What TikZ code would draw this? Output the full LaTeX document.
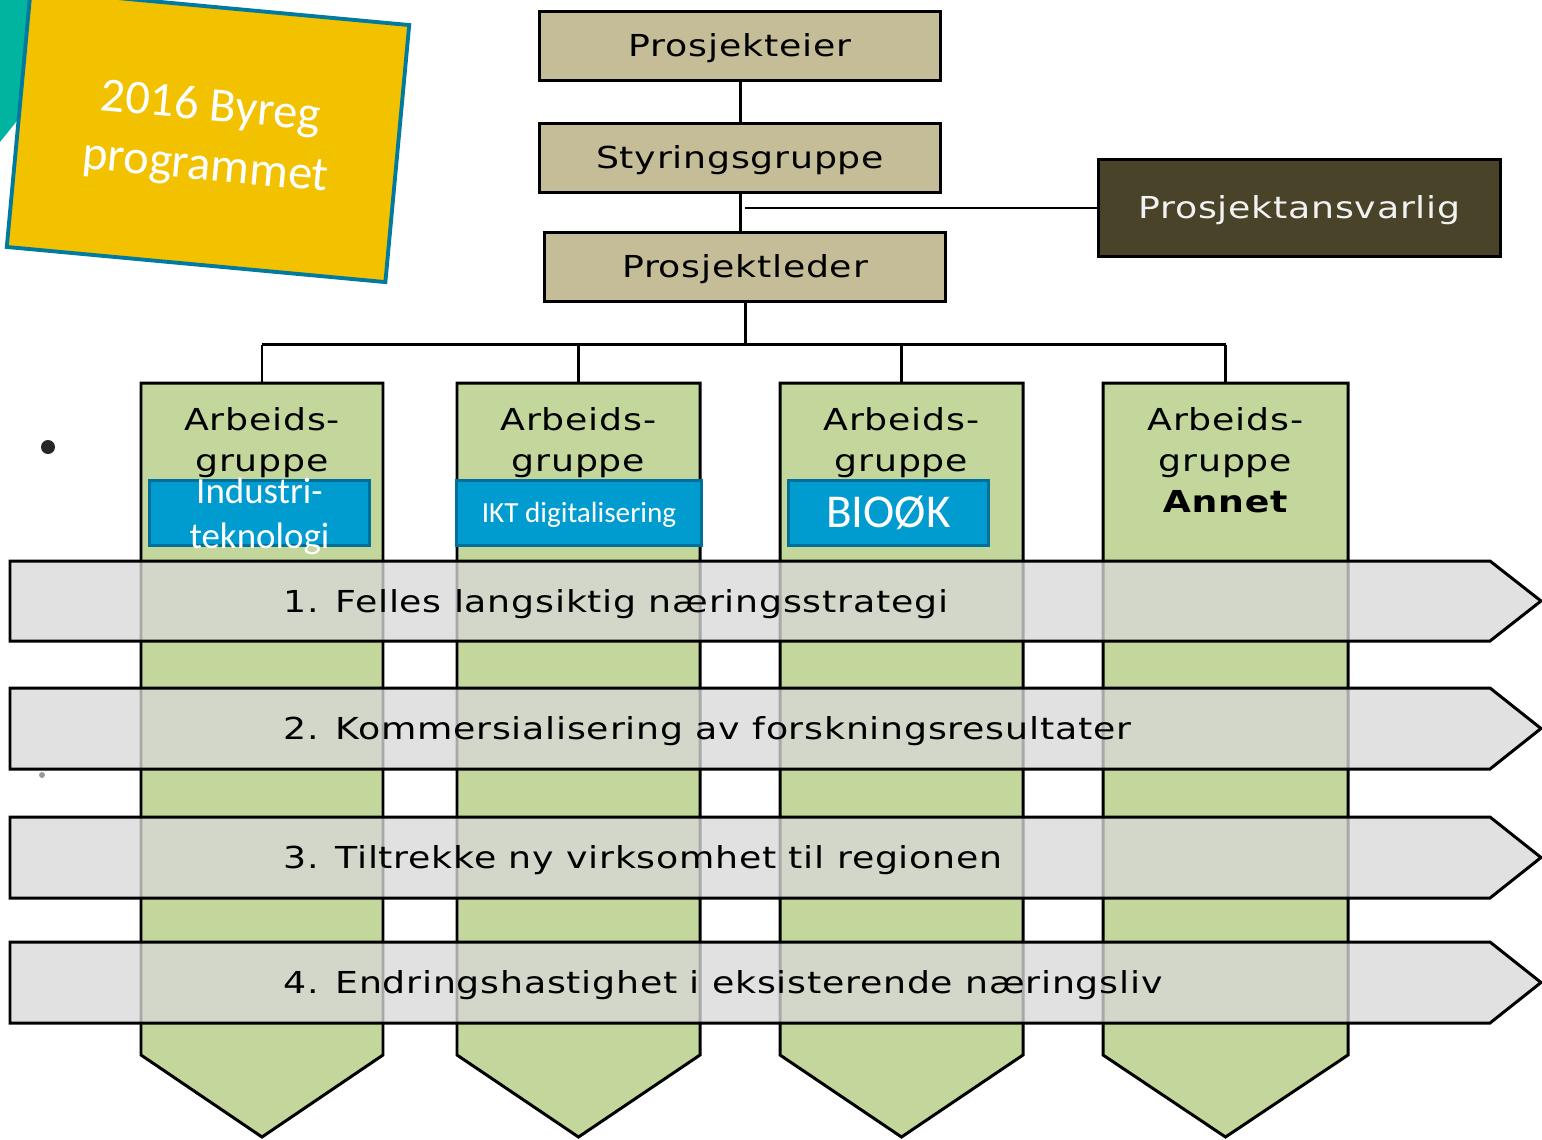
\documentclass[tikz,border=0pt]{standalone}
\usepackage{fontspec}
\setmainfont{DejaVu Sans}[LetterSpace=2.5, FakeStretch=1.2]
\newfontfamily\tagfont{Carlito}
\usepackage{xcolor}
\usetikzlibrary{positioning}
\definecolor{tanfill}{HTML}{C4BD97}
\definecolor{darkfill}{HTML}{494429}
\definecolor{greenfill}{HTML}{C3D69B}
\definecolor{bandfill}{HTML}{D8D8D8}
\definecolor{tagfill}{HTML}{009BCF}
\definecolor{tagline}{HTML}{006F9A}
\definecolor{yellowfill}{HTML}{F2C100}
\definecolor{yellowline}{HTML}{007A9E}
\definecolor{tealfill}{HTML}{00B4A0}
\tikzstyle{org} = [rectangle, minimum width=4.01cm, minimum height=0.69cm, inner sep=0pt, text centered,
     text height=6.5pt, text depth=0.3pt, draw=black, line width=0.85pt, fill=tanfill]
\tikzstyle{dark} = [rectangle, minimum width=4.01cm, minimum height=0.96cm, inner sep=0pt, text centered,
     text height=6.5pt, text depth=0.3pt, draw=black, line width=0.85pt, fill=darkfill, text=white!95!black]
\tikzstyle{column} = [draw=black, line width=0.85pt, fill=greenfill]
\tikzstyle{band} = [draw=black, line width=0.85pt, fill=bandfill, fill opacity=0.78]
\tikzstyle{grouptext} = [anchor=north, align=center, inner sep=0pt]
\tikzstyle{tag} = [rectangle, minimum height=0.64cm, inner sep=0pt, draw=tagline, line width=0.85pt, fill=tagfill]
\tikzstyle{tagtext} = [align=center, inner sep=0pt, text=white]
\tikzstyle{line} = [draw, line width=0.85pt]

\begin{document}
\begin{tikzpicture}[x=0.01cm, y=-0.01cm, font=\fontsize{8.6}{11.7}\selectfont]
\useasboundingbox (0,0) rectangle (1542,1139);

% programme label
\fill[tealfill] (0,0) -- (40,0) -- (40,92) -- (0,142) -- cycle;
\node (prog) [rotate=-5.3, minimum width=3.8cm, minimum height=2.58cm, inner sep=0pt, draw=yellowline,
     line width=1.1pt, fill=yellowfill] at (208,136) {};
\node (progtext) [rotate=-5.3, align=center, text=white, inner sep=0pt,
     font=\tagfont\fontsize{13.8}{17}\selectfont] at ([yshift=-0.02cm]prog) {2016 Byreg\\programmet};

% columns
\draw[column] (141,383) -- (383,383) -- (383,1055) -- (262,1137) -- (141,1055) -- cycle;
\draw[column] (457,383) -- (700,383) -- (700,1055) -- (578.5,1137) -- (457,1055) -- cycle;
\draw[column] (780,383) -- (1023,383) -- (1023,1055) -- (901.5,1137) -- (780,1055) -- cycle;
\draw[column] (1103,383) -- (1348,383) -- (1348,1055) -- (1225.5,1137) -- (1103,1055) -- cycle;
\coordinate (c1) at (262,383);
\coordinate (c2) at (578.5,383);
\coordinate (c3) at (901.5,383);
\coordinate (c4) at (1225.5,383);

% org chart
\node (peier) [org] at (740,46) {Prosjekteier};
\node (styr) [org, below=0.395cm of peier] {Styringsgruppe};
\node (pleder) [org, below=0.37cm of styr, xshift=0.05cm] {Prosjektleder};
\node (pansv) [dark] at (1299.5,208) {Prosjektansvarlig};
\coordinate (bus) at ([yshift=-0.42cm]pleder.south);

\path[line] (peier) -- (styr);
\path[line] (styr.south) -- (styr.south |- pleder.north);
\draw[line width=0.55pt] (pansv.west) -- (pansv.west -| pleder.south);
\path[line] (pleder) -- (bus);
\path[line] (c1 |- bus) -- (c4 |- bus);
\path[line] (c1 |- bus) -- (c1);
\path[line] (c2 |- bus) -- (c2);
\path[line] (c3 |- bus) -- (c3);
\path[line] (c4 |- bus) -- (c4);

% work groups
\node (g1) [grouptext] at (262,407) {Arbeids-\\gruppe};
\node (g2) [grouptext] at (578.5,407) {Arbeids-\\gruppe};
\node (g3) [grouptext] at (901.5,407) {Arbeids-\\gruppe};
\node (g4) [grouptext] at (1225.5,407) {Arbeids-\\gruppe\\\textbf{Annet}};

\node (t1) [tag, minimum width=2.19cm] at (259.5,513) {};
\node (t1text) [tagtext, font=\tagfont\fontsize{10.5}{12.8}\selectfont] at ([yshift=-0.03cm]t1) {Industri-\\teknologi};
\node (t2) [tag, minimum width=2.44cm] at (579,513) {};
\node (t2text) [tagtext, font=\tagfont\fontsize{8.3}{10}\selectfont] at ([yshift=-0.02cm]t2) {IKT digitalisering};
\node (t3) [tag, minimum width=1.99cm] at (888.5,513) {};
\node (t3text) [tagtext, font=\tagfont\fontsize{13.4}{15}\selectfont] at (t3) {BIOØK};

% strategy bands
\draw[band] (10,561) -- (1490,561) -- (1541,601) -- (1490,641) -- (10,641) -- cycle;
\draw[band] (10,688) -- (1490,688) -- (1541,728.5) -- (1490,769) -- (10,769) -- cycle;
\draw[band] (10,817) -- (1490,817) -- (1541,857.5) -- (1490,898) -- (10,898) -- cycle;
\draw[band] (10,942) -- (1490,942) -- (1541,982.5) -- (1490,1023) -- (10,1023) -- cycle;
\node (b1) [anchor=base west, inner sep=0pt] at (283,612) {1. Felles langsiktig næringsstrategi};
\node (b2) [anchor=base west, inner sep=0pt] at (283,739) {2. Kommersialisering av forskningsresultater};
\node (b3) [anchor=base west, inner sep=0pt] at (283,868) {3. Tiltrekke ny virksomhet til regionen};
\node (b4) [anchor=base west, inner sep=0pt] at (283,993) {4. Endringshastighet i eksisterende næringsliv};

% bullets
\fill[black!85] (48,447) circle (7);
\fill[black!40] (42,775) circle (3);
\end{tikzpicture}
\end{document}
